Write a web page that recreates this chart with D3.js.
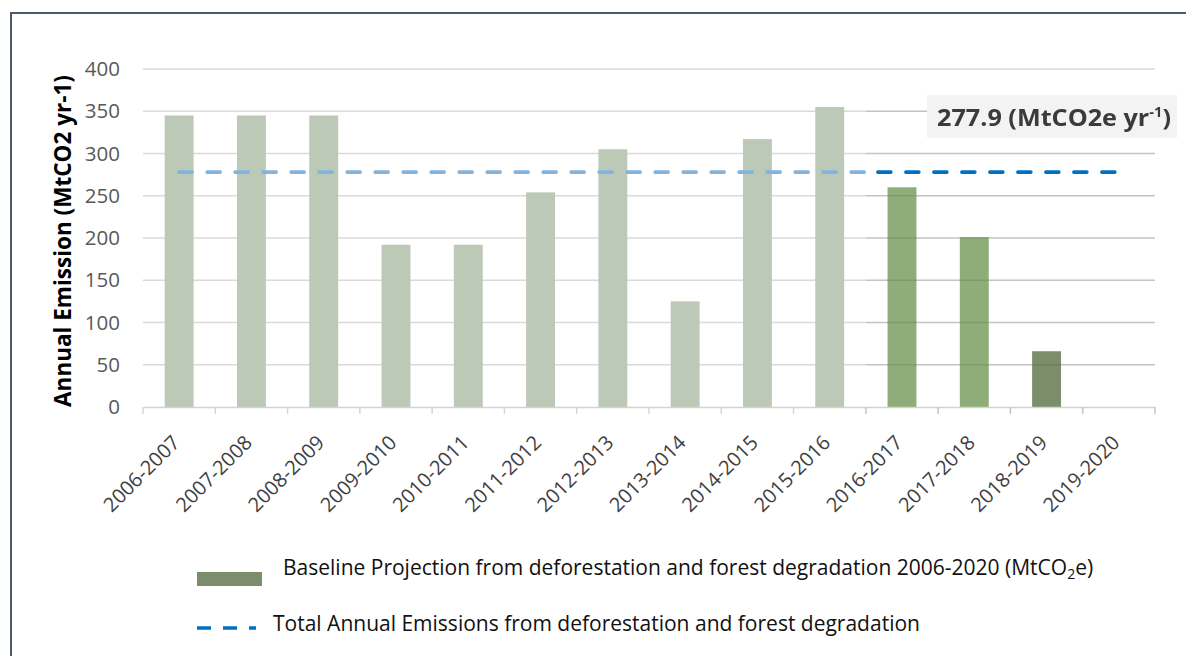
<!DOCTYPE html>
<html>
<head>
<meta charset="utf-8">
<script src="https://cdn.jsdelivr.net/npm/d3@7"></script>
<style>
  html, body { margin: 0; padding: 0; background: #ffffff; }
  svg { display: block; font-family: "Open Sans", "Noto Sans", sans-serif; }
</style>
</head>
<body>
<svg id="chart" width="1186" height="656"></svg>
<script>
// Annual emissions by reporting period (MtCO2 per year)
const periods = ["2006-2007", "2007-2008", "2008-2009", "2009-2010", "2010-2011",
                 "2011-2012", "2012-2013", "2013-2014", "2014-2015", "2015-2016",
                 "2016-2017", "2017-2018", "2018-2019", "2019-2020"];
const emissions = [345, 345, 345, 192, 192, 254, 305, 125, 317, 355, 260, 201, 66, 0];
// phase of each period: recorded history, projection, latest projection year
const phase = ["hist", "hist", "hist", "hist", "hist", "hist", "hist", "hist", "hist", "hist",
               "proj", "proj", "base", "base"];
const meanEmission = 277.9;
const yTicks = [0, 50, 100, 150, 200, 250, 300, 350, 400];

const legendBar = "Baseline Projection from deforestation and forest degradation 2006-2020 (MtCO";
const legendLine = "Total Annual Emissions from deforestation and forest degradation";

const colors = { hist: "#bdc9b7", proj: "#8fad78", base: "#7b8d6a" };

const svg = d3.select("#chart");

// outer frame
svg.append("path")
  .attr("d", "M11,700 L11,13 L1200,13")
  .attr("fill", "none")
  .attr("stroke", "#4c596c")
  .attr("stroke-width", 2);

const x = d3.scaleBand().domain(periods).range([143, 1155]).paddingInner(0).paddingOuter(0);
const y = d3.scaleLinear().domain([0, 400]).range([407, 69]);
const bw = x.bandwidth();
const barW = bw * 0.4;

// horizontal gridlines
svg.append("g")
  .selectAll("line")
  .data(yTicks.filter(d => d > 0))
  .join("line")
  .attr("x1", 143).attr("x2", 1155)
  .attr("y1", d => y(d)).attr("y2", d => y(d))
  .attr("stroke", "#dadada")
  .attr("stroke-width", 1.3);

// y tick labels
const yAxis = d3.axisLeft(y).tickValues(yTicks).tickSize(0).tickPadding(0);
const gy = svg.append("g").attr("transform", "translate(120,0)").call(yAxis);
gy.select(".domain").remove();
gy.selectAll("text")
  .attr("fill", "#595959")
  .attr("font-size", 20.5)
  .attr("font-family", "'Open Sans', sans-serif");

// bars
svg.append("g")
  .selectAll("rect")
  .data(periods.map((p, i) => ({ p, v: emissions[i], k: phase[i] })).filter(d => d.v > 0))
  .join("rect")
  .attr("x", d => x(d.p) + (bw - barW) / 2)
  .attr("width", barW)
  .attr("y", d => y(d.v))
  .attr("height", d => y(0) - y(d.v))
  .attr("fill", d => colors[d.k]);

// projection panel gridlines drawn slightly darker over its bars
const splitX = x(periods[10]);
svg.append("g")
  .selectAll("line")
  .data(yTicks.filter(d => d > 0 && d < 400))
  .join("line")
  .attr("x1", splitX).attr("x2", 1155)
  .attr("y1", d => y(d)).attr("y2", d => y(d))
  .attr("stroke", "#000")
  .attr("stroke-opacity", 0.1)
  .attr("stroke-width", 1.3);

// x axis
const xAxis = d3.axisBottom(x).tickSize(0).tickPadding(0);
const gx = svg.append("g").attr("transform", `translate(0,${y(0)})`).call(xAxis);
gx.select(".domain").attr("stroke", "#d3d3d3").attr("stroke-width", 1.5);
gx.selectAll(".tick line").remove();
gx.selectAll(".tick text")
  .attr("fill", "#404040")
  .attr("font-size", 20)
  .attr("font-family", "'Open Sans', sans-serif")
  .attr("text-anchor", "end")
  .attr("transform", `translate(-3,32) rotate(-45)`)
  .attr("dy", "0.35em")
  .attr("y", 0);

// category boundary ticks
const bounds = periods.map(p => x(p)).concat([x(periods[periods.length - 1]) + bw]);
svg.append("g")
  .selectAll("line")
  .data(bounds)
  .join("line")
  .attr("x1", d => d).attr("x2", d => d)
  .attr("y1", y(0)).attr("y2", y(0) + 7)
  .attr("stroke", (d, i) => i >= 10 ? "#c4c4c4" : "#d6d6d6")
  .attr("stroke-width", 1.5);

// mean emission line: recorded part then projection part
svg.append("line")
  .attr("x1", x(periods[0]) + bw / 2)
  .attr("x2", splitX)
  .attr("y1", y(meanEmission)).attr("y2", y(meanEmission))
  .attr("stroke", "#80b4de")
  .attr("stroke-width", 3.6)
  .attr("stroke-linecap", "round")
  .attr("stroke-dasharray", "13 15");

svg.append("line")
  .attr("x1", splitX + 12)
  .attr("x2", x(periods[periods.length - 1]) + bw / 2)
  .attr("y1", y(meanEmission)).attr("y2", y(meanEmission))
  .attr("stroke", "#0070c0")
  .attr("stroke-width", 3.6)
  .attr("stroke-linecap", "round")
  .attr("stroke-dasharray", "13 15");

// value callout
const blur = svg.append("defs").append("filter").attr("id", "soft");
blur.append("feGaussianBlur").attr("stdDeviation", 0.55);
svg.append("rect")
  .attr("x", 927).attr("y", 95).attr("width", 250).attr("height", 43)
  .attr("fill", "#f3f3f3");
const callout = svg.append("text")
  .attr("x", 937).attr("y", 126)
  .attr("font-size", 24)
  .attr("font-weight", "bold")
  .attr("fill", "#3a3a3a")
  .attr("textLength", 234)
  .attr("lengthAdjust", "spacingAndGlyphs")
  .attr("filter", "url(#soft)");
callout.append("tspan").text(`${meanEmission} (MtCO2e yr`);
callout.append("tspan").attr("font-size", 14).attr("dy", -9).text("-1");
callout.append("tspan").attr("dy", 9).text(")");

// y axis title
svg.append("text")
  .attr("transform", "translate(71,241) rotate(-90)")
  .attr("text-anchor", "middle")
  .attr("font-size", 22.5)
  .attr("font-weight", "bold")
  .attr("fill", "#000")
  .text("Annual Emission (MtCO2 yr-1)");

// legend
svg.append("rect")
  .attr("x", 197).attr("y", 572).attr("width", 65).attr("height", 14)
  .attr("fill", colors.base);
const lt1 = svg.append("text")
  .attr("x", 283).attr("y", 575)
  .attr("font-size", 21)
  .attr("fill", "#111");
lt1.append("tspan").text(legendBar);
lt1.append("tspan").attr("font-size", 14).attr("dy", 4).text("2");
lt1.append("tspan").attr("dy", -4).text("e)");

svg.append("line")
  .attr("x1", 197).attr("x2", 256)
  .attr("y1", 628).attr("y2", 628)
  .attr("stroke", "#0070c0")
  .attr("stroke-width", 3.6)
  .attr("stroke-dasharray", "14 12");
svg.append("text")
  .attr("x", 273).attr("y", 631)
  .attr("font-size", 21)
  .attr("fill", "#111")
  .text(legendLine);
</script>
</body>
</html>
